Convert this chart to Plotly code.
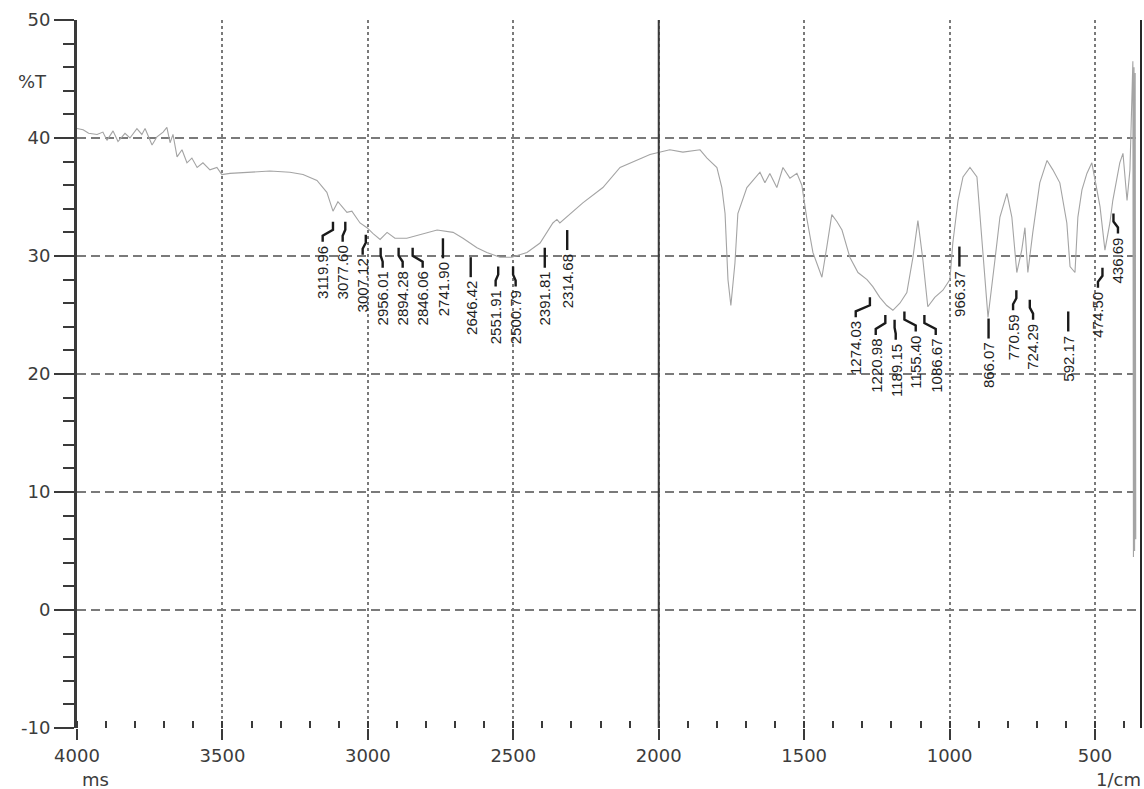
import plotly.graph_objects as go

# ---------------- data ----------------
wavenumber = [4000, 3979, 3960, 3931, 3911, 3897, 3876, 3859, 3835, 3818, 3794, 3777, 3766, 3742,
              3725, 3704, 3691, 3680, 3670, 3656, 3639, 3622, 3605, 3587, 3567, 3543, 3519, 3502,
              3474, 3405, 3337, 3268, 3223, 3175, 3141, 3120, 3103, 3072, 3055, 3027, 3003, 2982,
              2958, 2934, 2907, 2866, 2821, 2762, 2707, 2673, 2625, 2591, 2546, 2505, 2453, 2408,
              2364, 2350, 2340, 2316, 2261, 2192, 2133, 2030, 1962, 1917, 1858, 1834, 1800, 1783,
              1772, 1762, 1752, 1738, 1728, 1697, 1676, 1652, 1635, 1618, 1594, 1573, 1549, 1525,
              1508, 1491, 1470, 1439, 1422, 1405, 1387, 1370, 1343, 1315, 1284, 1264, 1240, 1216,
              1195, 1171, 1147, 1126, 1109, 1092, 1075, 1051, 1023, 999, 989, 971, 954, 930, 906,
              889, 868, 844, 827, 803, 786, 769, 752, 741, 731, 714, 690, 665, 645, 621, 597, 586,
              569, 559, 545, 528, 511, 483, 466, 449, 439, 415, 404, 390, 380, 370, 368, 366, 364,
              362, 360]
transmittance = [40.8, 40.7, 40.4, 40.3, 40.5, 39.8, 40.6, 39.7, 40.4, 40.0, 40.8, 40.3, 40.8, 39.4,
                 40.1, 40.5, 40.9, 39.6, 40.3, 38.4, 39.0, 37.9, 38.3, 37.5, 37.9, 37.3, 37.5, 36.9,
                 37.0, 37.1, 37.2, 37.1, 36.9, 36.4, 35.4, 33.8, 34.6, 33.7, 33.8, 32.8, 32.4, 31.9,
                 31.4, 32.0, 31.5, 31.5, 31.8, 32.2, 32.0, 31.5, 30.7, 30.3, 29.9, 29.9, 30.3, 31.1,
                 32.8, 33.1, 32.8, 33.3, 34.5, 35.8, 37.5, 38.6, 39.0, 38.8, 39.0, 38.3, 37.5, 35.8,
                 33.6, 28.0, 25.8, 29.4, 33.6, 35.8, 36.4, 37.1, 36.2, 37.0, 35.8, 37.5, 36.6, 37.0,
                 36.0, 33.2, 30.3, 28.2, 30.8, 33.5, 32.9, 32.2, 29.9, 28.6, 28.0, 27.4, 26.5, 25.8,
                 25.4, 26.0, 26.9, 29.9, 33.0, 29.7, 25.7, 26.5, 27.1, 28.0, 31.1, 34.7, 36.7, 37.5, 36.7,
                 31.4, 24.8, 29.7, 33.3, 35.3, 33.3, 28.6, 30.5, 32.4, 28.6, 32.0, 36.2, 38.1, 37.3,
                 36.2, 32.8, 29.1, 28.6, 33.3, 35.6, 37.0, 37.9, 34.2, 30.5, 32.8, 34.7, 37.9, 38.7,
                 34.7, 37.3, 46.5, 4.5, 46.0, 5.0, 45.5, 6.0]

peak_wn = [3119.96, 3077.60, 3007.12, 2956.01, 2894.28, 2846.06, 2741.90, 2646.42, 2551.91,
           2500.79, 2391.81, 2314.68, 1274.03, 1220.98, 1189.15, 1155.40, 1086.67, 966.37,
           866.07, 770.59, 724.29, 592.17, 474.50, 436.69]
peak_label = ["3119.96", "3077.60", "3007.12", "2956.01", "2894.28", "2846.06", "2741.90",
              "2646.42", "2551.91", "2500.79", "2391.81", "2314.68", "1274.03", "1220.98",
              "1189.15", "1155.40", "1086.67", "966.37", "866.07", "770.59", "724.29", "592.17",
              "474.50", "436.69"]
peak_T = [32.9, 32.9, 31.8, 30.7, 30.7, 30.7, 31.5, 29.9, 29.1, 29.1, 30.7, 32.2, 26.5, 25.0,
          24.6, 25.3, 25.0, 30.8, 24.7, 27.1, 26.3, 25.3, 29.0, 33.6]

x_tick_vals = [4000, 3500, 3000, 2500, 2000, 1500, 1000, 500]
x_tick_text = ["4000", "3500", "3000", "2500", "2000", "1500", "1000", "500"]
y_tick_vals = [-10, 0, 10, 20, 30, 40, 50]
y_tick_text = ["-10", "0", "10", "20", "30", "40", "50"]

# ---------------- layout geometry ----------------
W, H = 1144, 789
ML, MR, MT, MB = 77, 3, 20, 61
X_RANGE = [4000, 342]
Y_RANGE = [-10, 50]
plot_w = W - ML - MR
plot_h = H - MT - MB
x_px_per_unit = plot_w / (X_RANGE[0] - X_RANGE[1])
y_px_per_unit = plot_h / (Y_RANGE[1] - Y_RANGE[0])


def spread_labels(xs, gap_px):
    """1D label repel: keep labels at least gap_px apart, centred on their peaks."""
    px = [(X_RANGE[0] - v) * x_px_per_unit for v in xs]
    order = sorted(range(len(px)), key=lambda i: px[i])
    blocks = []
    for i in order:
        blocks.append([i])
        while len(blocks) > 1:
            a, b = blocks[-2], blocks[-1]
            ca = sum(px[k] for k in a) / len(a)
            cb = sum(px[k] for k in b) / len(b)
            end_a = ca + (len(a) - 1) / 2 * gap_px
            start_b = cb - (len(b) - 1) / 2 * gap_px
            if start_b - end_a < gap_px:
                blocks[-2:] = [a + b]
            else:
                break
    out = [0.0] * len(xs)
    for blk in blocks:
        c = sum(px[k] for k in blk) / len(blk)
        for j, k in enumerate(blk):
            p = c + (j - (len(blk) - 1) / 2) * gap_px
            out[k] = X_RANGE[0] - p / x_px_per_unit
    return out


label_wn = spread_labels(peak_wn, 20)

lead_x, lead_y = [], []
d1, d2, d3, dtext = 8 / y_px_per_unit, 14 / y_px_per_unit, 20 / y_px_per_unit, 22 / y_px_per_unit
for w, lw, t in zip(peak_wn, label_wn, peak_T):
    lead_x += [w, w, lw, lw, None]
    lead_y += [t, t - d1, t - d2, t - d3, None]

fig = go.Figure()
fig.add_trace(go.Scatter(x=wavenumber, y=transmittance, mode="lines",
                         line=dict(color="#a4a4a4", width=1.1), hoverinfo="skip"))
fig.add_trace(go.Scatter(x=lead_x, y=lead_y, mode="lines",
                         line=dict(color="#1a1a1a", width=2.4), hoverinfo="skip"))

annotations = []
for lw, t, txt in zip(label_wn, peak_T, peak_label):
    annotations.append(dict(x=lw, y=t - dtext, xref="x", yref="y", text=txt, showarrow=False,
                            textangle=-90, xanchor="center", yanchor="top",
                            font=dict(family="Liberation Sans, Arial", size=15, color="#1e1e1e")))

axis_font = dict(family="DejaVu Sans, Verdana", size=18, color="#3c3c3c")
annotations += [
    dict(x=(32 - ML) / plot_w, y=44.8, xref="paper", yref="y", text="%T", showarrow=False,
         xanchor="center", yanchor="middle", font=axis_font),
    dict(x=(95 - ML) / plot_w, y=-(779 - MT - plot_h) / plot_h, xref="paper", yref="paper",
         text="ms", showarrow=False, xanchor="center", yanchor="middle", font=axis_font),
    dict(x=(1143 - ML) / plot_w, y=-(779 - MT - plot_h) / plot_h, xref="paper", yref="paper",
         text="1/cm", showarrow=False, xanchor="right", yanchor="middle", font=axis_font),
]

shapes = [
    dict(type="line", xref="x", yref="paper", x0=2000, x1=2000, y0=0, y1=1,
         line=dict(color="#3a3a3a", width=2)),
    dict(type="line", xref="paper", yref="paper", x0=1, x1=1, y0=0, y1=1,
         line=dict(color="#2a2a2a", width=2)),
]

fig.update_layout(
    width=W, height=H, margin=dict(l=ML, r=MR, t=MT, b=MB),
    paper_bgcolor="white", plot_bgcolor="white", showlegend=False,
    annotations=annotations, shapes=shapes,
    xaxis=dict(range=X_RANGE, tickvals=x_tick_vals, ticktext=x_tick_text, tickfont=axis_font,
               showgrid=True, gridcolor="#7a7a7a", gridwidth=1.5, griddash="3px,3px",
               ticks="outside", ticklen=11, tickwidth=2, tickcolor="#3a3a3a",
               showline=False, zeroline=False,
               minor=dict(dtick=100, ticks="inside", ticklen=7, tickwidth=1.5,
                          tickcolor="#3a3a3a", showgrid=False)),
    yaxis=dict(range=Y_RANGE, tickvals=y_tick_vals, ticktext=y_tick_text, tickfont=axis_font,
               showgrid=True, gridcolor="#7a7a7a", gridwidth=1.5, griddash="9px,5px",
               ticks="outside", ticklen=20, tickwidth=2, tickcolor="#3a3a3a",
               showline=True, linecolor="#3a3a3a", linewidth=3, zeroline=False,
               minor=dict(dtick=2, ticks="outside", ticklen=11, tickwidth=2,
                          tickcolor="#3a3a3a", showgrid=False)),
)

fig.write_html("out.html")
